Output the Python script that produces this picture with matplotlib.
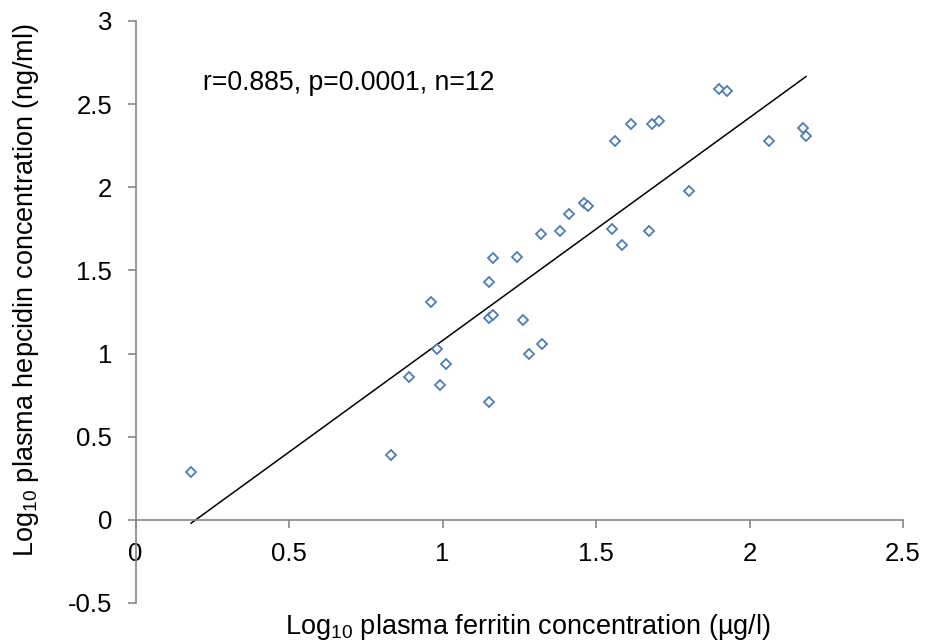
import matplotlib
matplotlib.use("Agg")
import matplotlib.pyplot as plt
import numpy as np

plt.rcParams['font.family'] = ['Liberation Sans', 'DejaVu Sans']
plt.rcParams['mathtext.fontset'] = 'custom'
plt.rcParams['mathtext.rm'] = 'Liberation Sans'
plt.rcParams['mathtext.it'] = 'Liberation Sans:italic'

# Data
log_ferritin = [0.181, 0.832, 0.892, 0.963, 0.983, 0.992, 1.012, 1.151, 1.151, 1.163,
                1.151, 1.163, 1.242, 1.262, 1.283, 1.324, 1.322, 1.383, 1.413, 1.462,
                1.473, 1.552, 1.584, 1.673, 1.804, 1.563, 1.614, 1.683, 1.706, 1.902,
                1.926, 2.064, 2.173, 2.184]
log_hepcidin = [0.287, 0.387, 0.858, 1.309, 1.028, 0.808, 0.938, 0.708, 1.213, 1.233,
                1.430, 1.573, 1.580, 1.200, 0.998, 1.060, 1.720, 1.740, 1.840, 1.904,
                1.888, 1.752, 1.652, 1.740, 1.980, 2.281, 2.381, 2.381, 2.401, 2.592,
                2.580, 2.281, 2.355, 2.309]
trend_slope = 1.341
trend_intercept = -0.263
x_ticks = [0, 0.5, 1, 1.5, 2, 2.5]
y_ticks = [-0.5, 0, 0.5, 1, 1.5, 2, 2.5, 3]
annotation = "r=0.885, p=0.0001, n=12"

fig = plt.figure(figsize=(9.3, 6.44), dpi=100)
ax = fig.add_axes([0.1457, 0.0637, 0.971 - 0.1457, 0.9674 - 0.0637])

blue = '#4a7ebb'
ax.plot(log_ferritin, log_hepcidin, linestyle='none', marker='D', markersize=5.4,
        markerfacecolor='white', markeredgecolor=blue, markeredgewidth=1.3, zorder=3)

xl = np.array([min(log_ferritin), max(log_ferritin)])
ax.plot(xl, trend_slope * xl + trend_intercept, color='black', linewidth=1.1, zorder=2)

ax.set_xlim(0, 2.5)
ax.set_ylim(-0.5, 3)
ax.set_xticks(x_ticks)
ax.set_yticks(y_ticks)
ax.set_xticklabels([f"{t:g}" for t in x_ticks])
ax.set_yticklabels([f"{t:g}" for t in y_ticks])

spine_col = '#868686'
ax.spines['top'].set_visible(False)
ax.spines['right'].set_visible(False)
ax.spines['bottom'].set_position(('data', 0))
for s in ('left', 'bottom'):
    ax.spines[s].set_color(spine_col)
    ax.spines[s].set_linewidth(1.2)
ax.tick_params(axis='both', colors=spine_col, labelcolor='black', labelsize=18.5,
               length=5.8, width=1.2, direction='out')
ax.tick_params(axis='x', pad=10)
ax.tick_params(axis='y', pad=11)

ax.text(0.22, 2.586, annotation, fontsize=19.2, va='baseline', ha='left')

fig.text(527.5 / 930, 1 - 634 / 644, r"Log$_{10}$ plasma ferritin concentration (µg/l)",
         fontsize=19.5, ha='center', va='baseline')
fig.text(33 / 930, 1 - 290 / 644, r"Log$_{10}$ plasma hepcidin concentration (ng/ml)",
         fontsize=19.5, ha='center', va='baseline', rotation=90, rotation_mode='anchor')

fig.savefig("out.png", dpi=100)
